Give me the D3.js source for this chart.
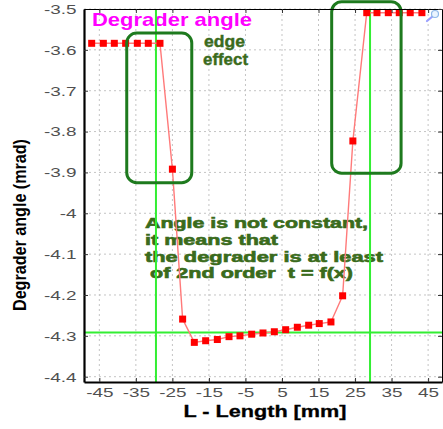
<!DOCTYPE html>
<html>
<head>
<meta charset="utf-8">
<script src="https://cdn.jsdelivr.net/npm/d3@7"></script>
<style>
  html, body { margin: 0; padding: 0; background: #fff; }
  svg { display: block; font-family: "Liberation Sans", Arial, sans-serif; }
</style>
</head>
<body>
<svg id="chart" width="443" height="429"></svg>
<script>
// Position along the degrader (mm) and measured degrader angle (mrad)
const lengthMm = [-47.1, -43.9, -40.9, -37.8, -34.6, -31.6, -28.4, -25.0, -22.2, -19.0,
                  -15.9, -12.7, -9.5, -6.5, -3.3, -0.2, 2.9, 6.0, 9.2, 12.3,
                  15.2, 18.4, 21.6, 24.4, 28.2, 31.0, 34.1, 37.1, 40.1, 43.3];
const angleMrad = [-3.584, -3.584, -3.584, -3.584, -3.584, -3.584, -3.584, -3.892, -4.259, -4.316,
                   -4.312, -4.309, -4.302, -4.300, -4.296, -4.293, -4.290, -4.285, -4.279, -4.274,
                   -4.270, -4.266, -4.202, -3.823, -3.509, -3.509, -3.509, -3.509, -3.509, -3.509];

// Axis ticks and their labels
const xTicks = [-45, -35, -25, -15, -5, 5, 15, 25, 35, 45];
const xTickLabels = ["-45", "-35", "-25", "-15", "-5", "5", "15", "25", "35", "45"];
const yTicks = [-3.5, -3.6, -3.7, -3.8, -3.9, -4.0, -4.1, -4.2, -4.3, -4.4];
const yTickLabels = ["-3.5", "-3.6", "-3.7", "-3.8", "-3.9", "-4", "-4.1", "-4.2", "-4.3", "-4.4"];

// Reference lines: degrader edges and mean angle
const edgeLines = [-29.5, 29.1];
const meanAngle = [-4.292];

// Highlighted edge-effect regions [x0, x1, yTop, yBottom]
const edgeBoxes = [
  [-37.5, -19.7, -3.559, -3.925],
  [18.6, 37.6, -3.482, -3.902]
];

const noteLines = ["Angle is not constant,", "it means that", "the degrader is at least", "of 2nd order  t = f(x)"];

const margin = { left: 84, top: 9 };
const W = 358, H = 373;
const stretch = 1.4;

const svg = d3.select("#chart");
const g = svg.append("g").attr("transform", `translate(${margin.left},${margin.top})`);

const x = d3.scaleLinear().domain([-49.2, 48.8]).range([0, W]);
const y = d3.scaleLinear().domain([-3.5, -4.413]).range([0, H]);

// Dotted grid
g.append("g").selectAll("line").data(xTicks).join("line")
  .attr("x1", d => x(d)).attr("x2", d => x(d)).attr("y1", 0).attr("y2", H)
  .attr("stroke", "#c4c4c4").attr("stroke-width", 1).attr("stroke-dasharray", "2,3");
g.append("g").selectAll("line").data(yTicks).join("line")
  .attr("x1", 0).attr("x2", W).attr("y1", d => y(d)).attr("y2", d => y(d))
  .attr("stroke", "#c4c4c4").attr("stroke-width", 1).attr("stroke-dasharray", "2,3");

// Helper: widen text to the chart's broad lettering
function widen(sel, target) {
  sel.each(function () {
    const w = this.getComputedTextLength();
    d3.select(this).attr("textLength", target != null ? target : w * stretch)
      .attr("lengthAdjust", "spacingAndGlyphs");
  });
}

// Annotations
g.append("text").attr("x", 8).attr("y", 16.5)
  .attr("font-size", 18.5).attr("font-weight", "bold").attr("fill", "#ff00ff")
  .text("Degrader angle").call(widen, 160);

const green = "#3a6b1c";
g.append("text").attr("x", 120).attr("y", 37.5)
  .attr("font-size", 16).attr("font-weight", "bold").attr("fill", green)
  .attr("stroke", green).attr("stroke-width", 0.4)
  .text("edge").call(widen, 41);
g.append("text").attr("x", 119).attr("y", 55.5)
  .attr("font-size", 16).attr("font-weight", "bold").attr("fill", green)
  .attr("stroke", green).attr("stroke-width", 0.4)
  .text("effect").call(widen, 45);

const noteX = [61, 61, 61, 66];
const noteY = [219.3, 235.8, 252.6, 269.3];
const noteW = [223, 133, 238, 203];
g.append("g").selectAll("text").data(noteLines).join("text")
  .attr("x", (d, i) => noteX[i]).attr("y", (d, i) => noteY[i])
  .attr("font-size", 14.3).attr("font-weight", "bold").attr("fill", green)
  .attr("stroke", green).attr("stroke-width", 0.6)
  .attr("xml:space", "preserve")
  .text(d => d)
  .each(function (d, i) {
    d3.select(this).attr("textLength", noteW[i]).attr("lengthAdjust", "spacingAndGlyphs");
  });

// Reference lines
g.append("g").selectAll("line").data(edgeLines).join("line")
  .attr("x1", d => x(d)).attr("x2", d => x(d)).attr("y1", 0).attr("y2", H)
  .attr("stroke", "#33ee33").attr("stroke-width", 2);
g.append("g").selectAll("line").data(meanAngle).join("line")
  .attr("x1", 0).attr("x2", W).attr("y1", d => y(d)).attr("y2", d => y(d))
  .attr("stroke", "#33ee33").attr("stroke-width", 2);

// Data curve and markers
const pts = lengthMm.map((v, i) => [v, angleMrad[i]]);
const line = d3.line().x(d => x(d[0])).y(d => y(d[1])).curve(d3.curveLinear);
g.append("path").datum(pts).attr("d", line)
  .attr("fill", "none").attr("stroke", "#ff7a7a").attr("stroke-width", 1.4)
  .attr("stroke-linejoin", "round");
const ms = 7;
g.append("g").selectAll("rect").data(pts).join("rect")
  .attr("x", d => x(d[0]) - ms / 2).attr("y", d => y(d[1]) - ms / 2)
  .attr("width", ms).attr("height", ms).attr("fill", "#ff0000");

// Edge-effect boxes
g.append("g").selectAll("rect").data(edgeBoxes).join("rect")
  .attr("x", d => x(d[0])).attr("y", d => y(d[2]))
  .attr("width", d => x(d[1]) - x(d[0])).attr("height", d => y(d[3]) - y(d[2]))
  .attr("rx", 10).attr("ry", 10)
  .attr("fill", "none").attr("stroke", "#1e7a1e").attr("stroke-width", 3);

// Axes
const xAxis = g.append("g").attr("transform", `translate(0,${H})`)
  .call(d3.axisBottom(x).tickValues(xTicks).tickFormat((d, i) => xTickLabels[i])
    .tickSizeInner(-4).tickSizeOuter(0).tickPadding(5.5));
const yAxis = g.append("g")
  .call(d3.axisLeft(y).tickValues(yTicks).tickFormat((d, i) => yTickLabels[i])
    .tickSizeInner(-4).tickSizeOuter(0).tickPadding(7.5));
g.append("g")
  .call(d3.axisTop(x).tickValues(xTicks).tickFormat("").tickSizeInner(-4).tickSizeOuter(0));
g.append("g").attr("transform", `translate(${W},0)`)
  .call(d3.axisRight(y).tickValues(yTicks).tickFormat("").tickSizeInner(-4).tickSizeOuter(0));

[xAxis, yAxis].forEach(a => {
  a.selectAll("text").attr("font-size", 13.5).attr("fill", "#505050")
    .attr("font-family", "'Liberation Sans', Arial, sans-serif").call(widen);
  a.select(".domain").attr("stroke", "#000").attr("stroke-width", 2.2);
});
g.selectAll(".tick line").attr("stroke", "#333");

// Axis titles
svg.append("text").attr("x", 265).attr("y", 416.5).attr("text-anchor", "middle")
  .attr("font-size", 16.5).attr("font-weight", "bold").attr("fill", "#000")
  .attr("stroke", "#000").attr("stroke-width", 0.3)
  .text("L - Length [mm]").call(widen, 163);
svg.append("text").attr("transform", "translate(26,225) rotate(-90)").attr("text-anchor", "middle")
  .attr("font-size", 19).attr("font-weight", "bold").attr("fill", "#000")
  .text("Degrader angle (mrad)").call(widen, 172);

// Zoom tool glyph in the corner
const zg = svg.append("g").attr("transform", "translate(435,14)");
zg.append("line").attr("x1", -2).attr("y1", 2).attr("x2", -8).attr("y2", 7)
  .attr("stroke", "#9aa0ff").attr("stroke-width", 2.2).attr("stroke-linecap", "round");
zg.append("circle").attr("r", 3.5).attr("fill", "#eaf4ff").attr("stroke", "#8fb8e8").attr("stroke-width", 1.2);
</script>
</body>
</html>
